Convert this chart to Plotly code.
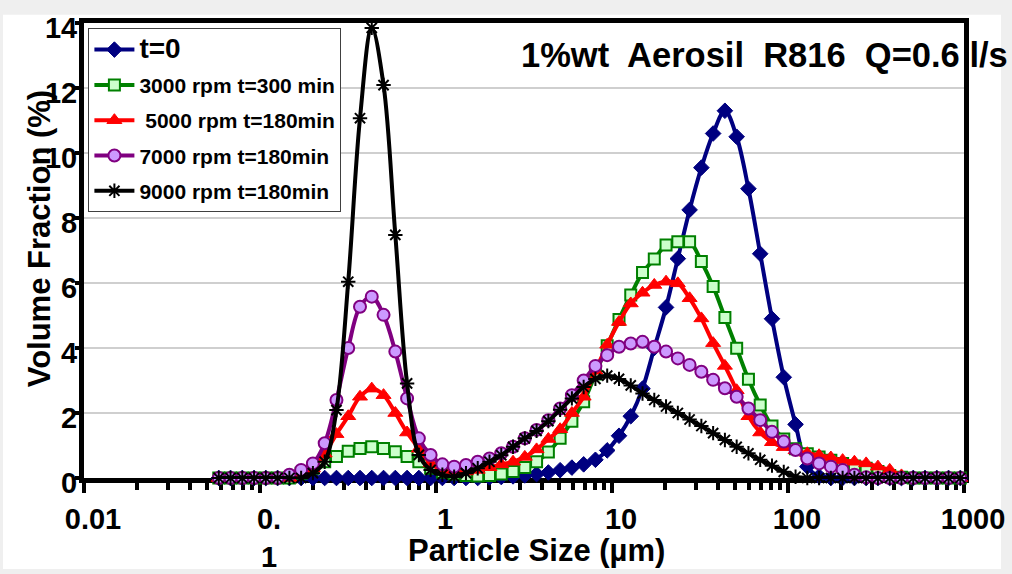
import plotly.graph_objects as go

# Particle size classes (µm)
size_um = [0.05831, 0.06802, 0.07932, 0.09253, 0.1079, 0.1259, 0.1469, 0.1713, 0.1998, 0.2331,
           0.2719, 0.3172, 0.3700, 0.4315, 0.5035, 0.5873, 0.6851, 0.7991, 0.9322, 1.087,
           1.268, 1.480, 1.726, 2.014, 2.349, 2.740, 3.196, 3.728, 4.349, 5.073,
           5.917, 6.902, 8.051, 9.391, 10.96, 12.78, 14.91, 17.39, 20.28, 23.66,
           27.60, 32.19, 37.55, 43.80, 51.09, 59.60, 69.52, 81.10, 94.61, 110.4,
           128.7, 150.2, 175.2, 204.3, 238.4, 278.0, 324.3, 378.4, 441.3, 514.8,
           600.5, 700.5, 817.1, 953.0]

# Volume fraction (%)
t0 = [0]*23 + [0.02, 0.03, 0.05, 0.08, 0.12, 0.17, 0.24, 0.32, 0.42, 0.56,
               0.85, 1.3, 1.9, 2.75, 4.0, 5.25, 6.75, 8.25, 9.55, 10.6,
               11.3, 10.5, 8.9, 6.9, 4.9, 3.1, 1.65, 0.35, 0.05] + [0]*12

rpm3000 = [0]*7 + [0.15, 0.3, 0.5, 0.66, 0.82, 0.91, 0.96, 0.91, 0.81, 0.66,
                   0.5, 0.3, 0.18, 0.12, 0.08, 0.06, 0.08, 0.12, 0.2, 0.32,
                   0.5, 0.8, 1.22, 1.75, 2.35, 3.2, 4.07, 4.88, 5.63, 6.32,
                   6.74, 7.17, 7.27, 7.27, 6.66, 5.89, 4.94, 3.99, 3.04, 2.25,
                   1.6, 1.2, 0.9, 0.75, 0.65, 0.55, 0.45, 0.37, 0.3, 0.2,
                   0.08, 0.02] + [0]*5

rpm5000 = [0]*7 + [0.1, 0.3, 0.75, 1.35, 1.9, 2.5, 2.75, 2.55, 2.0, 1.4,
                   0.9, 0.45, 0.25, 0.2, 0.2, 0.25, 0.33, 0.42, 0.5, 0.65,
                   0.88, 1.2, 1.5, 2.0, 2.5, 3.3, 4.1, 4.8, 5.37, 5.7,
                   5.94, 6.04, 5.99, 5.53, 4.91, 4.15, 3.45, 2.7, 1.9, 1.4,
                   1.1, 0.95, 0.85, 0.76, 0.7, 0.63, 0.55, 0.5, 0.45, 0.35,
                   0.25, 0.08] + [0]*5

rpm7000 = [0]*6 + [0.1, 0.25, 0.45, 1.07, 2.4, 4.0, 5.27, 5.58, 5.02, 3.89,
                   2.45, 1.22, 0.71, 0.42, 0.35, 0.4, 0.5, 0.6, 0.76, 0.96,
                   1.22, 1.48, 1.78, 2.14, 2.55, 3.0, 3.45, 3.78, 4.04, 4.14,
                   4.19, 4.04, 3.89, 3.68, 3.48, 3.27, 3.02, 2.76, 2.5, 2.14,
                   1.78, 1.42, 1.12, 0.86, 0.6, 0.45, 0.35, 0.25, 0.1, 0.02] + [0]*8

rpm9000 = [0]*8 + [0.15, 0.5, 2.09, 6.04, 11.07, 13.85, 12.09, 7.48, 2.91, 0.71,
                   0.25, 0.1, 0.04, 0.15, 0.3, 0.5, 0.7, 0.96, 1.22, 1.45,
                   1.75, 2.1, 2.45, 2.8, 3.05, 3.15, 3.05, 2.85, 2.6, 2.4,
                   2.2, 2.0, 1.8, 1.6, 1.38, 1.17, 0.96, 0.76, 0.56, 0.38,
                   0.19, 0.04] + [0]*14

names = ["t=0", "3000 rpm t=300 min", " 5000 rpm t=180min", "7000 rpm t=180min", "9000 rpm t=180min"]
xtick_vals = [0.01, 0.1, 1, 10, 100, 1000]
xtick_text = ["0.01", "0.<br>1", "1", "10", "100", "1000"]
ytick_vals = [0, 2, 4, 6, 8, 10, 12, 14]

FONT = "Liberation Sans, Arial, sans-serif"

styles = [
    dict(line=dict(color="#000080", width=4),
         marker=dict(symbol="diamond", size=12, color="#000080", line=dict(color="#000080", width=1))),
    dict(line=dict(color="#008000", width=4),
         marker=dict(symbol="square", size=11, color="#ccffcc", line=dict(color="#008000", width=2))),
    dict(line=dict(color="#ff0000", width=4),
         marker=dict(symbol="triangle-up", size=13, color="#ff0000", line=dict(color="#ff0000", width=1))),
    dict(line=dict(color="#800080", width=4),
         marker=dict(symbol="circle", size=12, color="#cc99ff", line=dict(color="#800080", width=2))),
    dict(line=dict(color="#000000", width=4),
         marker=dict(symbol="asterisk-open", size=12, color="#000000", line=dict(color="#000000", width=2))),
]
series = [t0, rpm3000, rpm5000, rpm7000, rpm9000]

fig = go.Figure()
for i, (nm, ys, st) in enumerate(zip(names, series, styles)):
    label = "<span style='font-size:28px'>t=0</span>" if i == 0 else nm
    fig.add_trace(go.Scatter(
        x=size_um, y=ys, name=label, mode="lines+markers",
        line=dict(shape="spline", smoothing=1, **st["line"]),
        marker=st["marker"], cliponaxis=False, legendgroup=str(i),
    ))

minor_vals = [m * 10 ** e for e in range(-2, 3) for m in range(2, 10)]

fig.update_layout(
    width=1012, height=574,
    margin=dict(l=84, r=48, t=23, b=96, pad=0, autoexpand=False),
    paper_bgcolor="#efefef", plot_bgcolor="white",
    font=dict(family=FONT, color="black", weight="bold"),
    showlegend=True,
    legend=dict(x=0.005, y=0.988, xanchor="left", yanchor="top",
                bgcolor="white", bordercolor="#404040", borderwidth=1,
                font=dict(size=21, family=FONT, weight="bold", color="black"),
                tracegroupgap=5, itemwidth=40),
    xaxis=dict(type="log", range=[-2, 3], tickvals=xtick_vals, ticktext=xtick_text,
               automargin=False,
               showgrid=False, zeroline=False, showline=True, linecolor="black",
               linewidth=5, mirror=True, ticks="outside", ticklen=10, tickwidth=4,
               tickcolor="black", tickfont=dict(size=29, family=FONT, weight="bold"),
               ticklabelshift=9, ticklabelstandoff=1, layer="below traces",
               minor=dict(tickvals=minor_vals, ticks="outside", ticklen=7, tickwidth=4,
                          tickcolor="black", showgrid=False)),
    yaxis=dict(range=[0, 14], tickvals=ytick_vals, showgrid=True, gridcolor="#cfcfcf",
               automargin=False,
               gridwidth=1.5, zeroline=False, showline=True, linecolor="black",
               linewidth=5, mirror=True, ticks="outside", ticklen=4, tickwidth=4,
               tickcolor="black", tickfont=dict(size=29, family=FONT, weight="bold"),
               ticklabelstandoff=-8, ticklabelshift=5, layer="below traces"),
    shapes=[dict(type="rect", xref="paper", yref="paper",
                 x0=-0.092, x1=1.042, y0=-0.20, y1=1.018,
                 fillcolor="white", line=dict(width=0), layer="below")],
    annotations=[
        dict(text="1%wt  Aerosil  R816  Q=0.6 l/s", xref="paper", yref="paper",
             x=1.052, y=0.93, xanchor="right", yanchor="middle", showarrow=False,
             font=dict(size=34.5, family=FONT, weight="bold", color="black")),
        dict(text="Volume Fraction (%)", xref="paper", yref="paper",
             x=-0.051, y=0.525, xanchor="center", yanchor="middle", textangle=-90,
             showarrow=False, font=dict(size=31, family=FONT, weight="bold", color="black")),
        dict(text="Particle Size (µm)", xref="paper", yref="paper",
             x=0.514, y=-0.16, xanchor="center", yanchor="middle", showarrow=False,
             font=dict(size=31, family=FONT, weight="bold", color="black")),
    ],
)

fig.write_html("out.html")
